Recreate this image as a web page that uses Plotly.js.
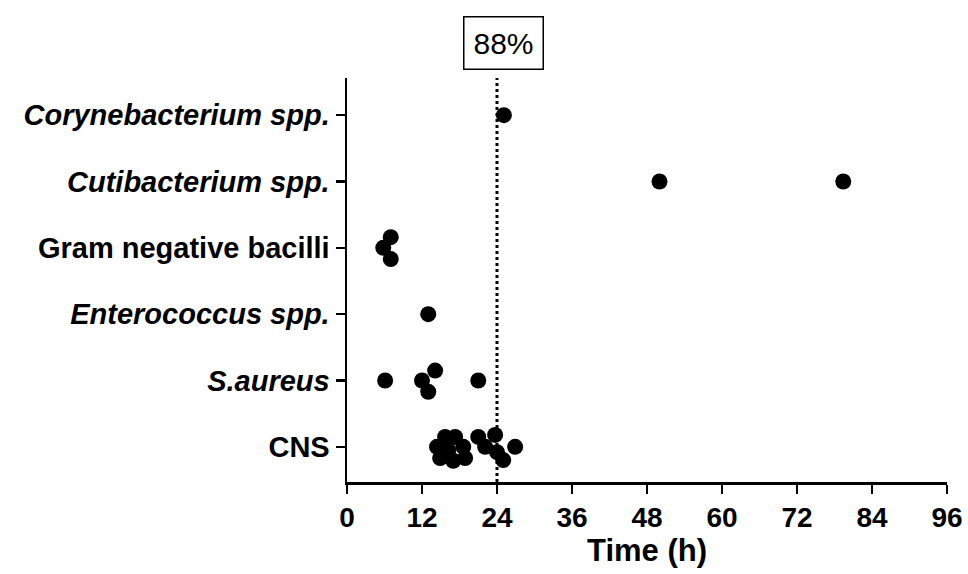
<!DOCTYPE html>
<html>
<head>
<meta charset="utf-8">
<script src="https://cdn.plot.ly/plotly-3.0.1.min.js"></script>
<style>html,body{margin:0;padding:0;background:#fff;}#chart{width:968px;height:574px;}</style>
</head>
<body>
<div id="chart"></div>
<script>
// Categories, bottom to top
const categories = ["CNS", "<i>S.aureus</i>", "<i>Enterococcus spp.</i>", "Gram negative bacilli", "<i>Cutibacterium spp.</i>", "<i>Corynebacterium spp.</i>"];
// Time to positivity (h) for each category, with vertical scatter (jitter)
const cnsTime = [14.4, 15.7, 17.3, 14.9, 17.0, 18.9, 18.6, 16.2, 21.0, 23.7, 22.1, 24.0, 25.0, 26.9];
const cnsJitter = [0.0, 0.15, 0.15, -0.17, -0.21, -0.17, 0.0, -0.05, 0.15, 0.18, 0.0, -0.08, -0.2, 0.0];
const saureusTime = [6.1, 12.0, 14.1, 13.0, 21.0];
const saureusJitter = [0.0, 0.0, 0.15, -0.17, 0.0];
const enteroTime = [13.0];
const enteroJitter = [0.0];
const gramNegTime = [7.0, 5.8, 7.0];
const gramNegJitter = [0.16, 0.0, -0.17];
const cutiTime = [50.0, 79.4];
const cutiJitter = [0.0, 0.0];
const coryneTime = [25.1];
const coryneJitter = [0.0];
const xTicks = [0, 12, 24, 36, 48, 60, 72, 84, 96];
const cutoff = 24;
const cutoffLabel = "88%";

const groups = [
  [cnsTime, cnsJitter], [saureusTime, saureusJitter], [enteroTime, enteroJitter],
  [gramNegTime, gramNegJitter], [cutiTime, cutiJitter], [coryneTime, coryneJitter]
];
const traces = groups.map((g, i) => ({
  type: "scatter", mode: "markers",
  x: g[0], y: g[1].map(j => i + j),
  marker: {color: "#000", size: 16, line: {width: 0}},
  showlegend: false, hoverinfo: "x"
}));

const layout = {
  width: 968, height: 574,
  margin: {l: 347, r: 21, t: 78, b: 92},
  paper_bgcolor: "#fff", plot_bgcolor: "#fff",
  font: {family: "Liberation Sans, Arial, sans-serif", color: "#000"},
  xaxis: {
    range: [0, 96], tickvals: xTicks, ticktext: xTicks.map(v => "<b>" + v + "</b>"),
    showgrid: false, zeroline: false, showline: true, linecolor: "#000", linewidth: 2.5,
    ticks: "outside", ticklen: 9, tickwidth: 2.5, tickcolor: "#000",
    tickfont: {size: 28},
    title: {text: "<b>Time (h)</b>", font: {size: 31}, standoff: 5}
  },
  yaxis: {
    range: [-0.53, 5.56], tickvals: categories.map((_, i) => i), ticktext: categories.map(c => "<b>" + c + "</b>"),
    showgrid: false, zeroline: false, showline: true, linecolor: "#000", linewidth: 2.5,
    ticks: "outside", ticklen: 9, tickwidth: 2.5, tickcolor: "#000",
    tickfont: {size: 29}
  },
  shapes: [{
    type: "line", xref: "x", yref: "paper", x0: cutoff, x1: cutoff, y0: 0, y1: 1.0,
    line: {color: "#000", width: 3, dash: "dot"}
  }],
  annotations: [{
    xref: "x", yref: "paper", x: 25, y: 1.087, text: cutoffLabel, showarrow: false,
    font: {size: 30, family: "Liberation Sans, Arial, sans-serif", color: "#000"},
    bordercolor: "#000", borderwidth: 1.5, borderpad: 9, bgcolor: "#fff",
    xanchor: "center", yanchor: "middle"
  }]
};
Plotly.newPlot("chart", traces, layout, {displayModeBar: false, staticPlot: true});
</script>
</body>
</html>
